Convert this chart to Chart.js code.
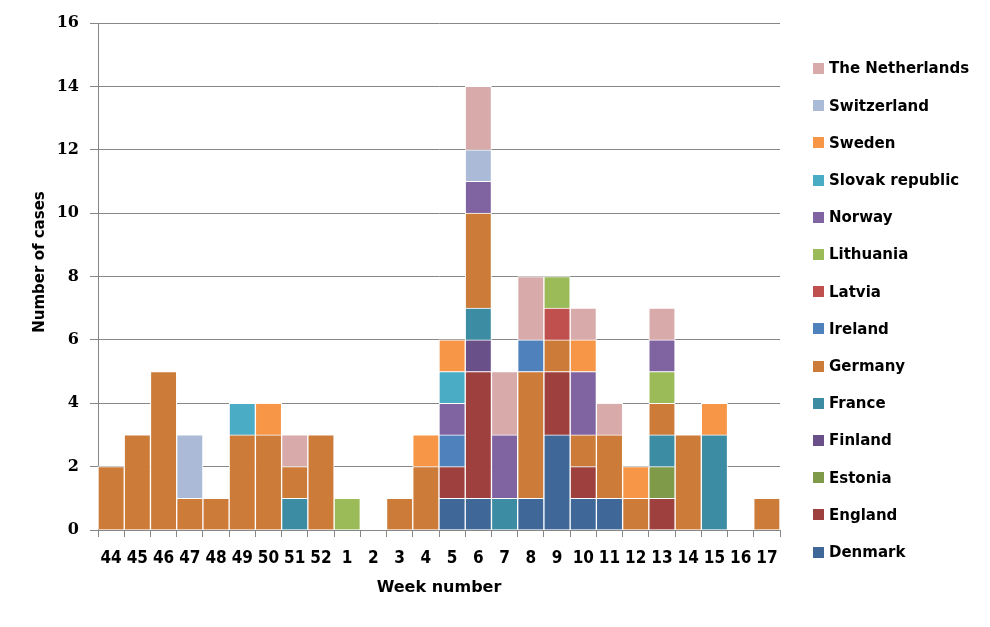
<!DOCTYPE html>
<html>
<head>
<meta charset="utf-8">
<script src="https://cdn.jsdelivr.net/npm/chart.js@4.4.1/dist/chart.umd.min.js"></script>
<style>
  html, body { margin: 0; padding: 0; background: #fff; }
  #wrap { width: 990px; height: 627px; }
</style>
</head>
<body>
<div id="wrap"><canvas id="casesChart" width="990" height="627"></canvas></div>
<script>
// Week numbers on the x axis (season spans the new year)
const weeks = ['44','45','46','47','48','49','50','51','52','1','2','3','4','5','6','7','8','9','10','11','12','13','14','15','16','17'];
const yTicks = [0, 2, 4, 6, 8, 10, 12, 14, 16];

// cases per week, one array per country (stack order bottom -> top)
//                  44 45 46 47 48 49 50 51 52  1  2  3  4  5  6  7  8  9 10 11 12 13 14 15 16 17
const denmark     = [0, 0, 0, 0, 0, 0, 0, 0, 0, 0, 0, 0, 0, 1, 1, 0, 1, 3, 1, 1, 0, 0, 0, 0, 0, 0];
const england     = [0, 0, 0, 0, 0, 0, 0, 0, 0, 0, 0, 0, 0, 1, 4, 0, 0, 2, 1, 0, 0, 1, 0, 0, 0, 0];
const estonia     = [0, 0, 0, 0, 0, 0, 0, 0, 0, 0, 0, 0, 0, 0, 0, 0, 0, 0, 0, 0, 0, 1, 0, 0, 0, 0];
const finland     = [0, 0, 0, 0, 0, 0, 0, 0, 0, 0, 0, 0, 0, 0, 1, 0, 0, 0, 0, 0, 0, 0, 0, 0, 0, 0];
const france      = [0, 0, 0, 0, 0, 0, 0, 1, 0, 0, 0, 0, 0, 0, 1, 1, 0, 0, 0, 0, 0, 1, 0, 3, 0, 0];
const germany     = [2, 3, 5, 1, 1, 3, 3, 1, 3, 0, 0, 1, 2, 0, 3, 0, 4, 1, 1, 2, 1, 1, 3, 0, 0, 1];
const ireland     = [0, 0, 0, 0, 0, 0, 0, 0, 0, 0, 0, 0, 0, 1, 0, 0, 1, 0, 0, 0, 0, 0, 0, 0, 0, 0];
const latvia      = [0, 0, 0, 0, 0, 0, 0, 0, 0, 0, 0, 0, 0, 0, 0, 0, 0, 1, 0, 0, 0, 0, 0, 0, 0, 0];
const lithuania   = [0, 0, 0, 0, 0, 0, 0, 0, 0, 1, 0, 0, 0, 0, 0, 0, 0, 1, 0, 0, 0, 1, 0, 0, 0, 0];
const norway      = [0, 0, 0, 0, 0, 0, 0, 0, 0, 0, 0, 0, 0, 1, 1, 2, 0, 0, 2, 0, 0, 1, 0, 0, 0, 0];
const slovak      = [0, 0, 0, 0, 0, 1, 0, 0, 0, 0, 0, 0, 0, 1, 0, 0, 0, 0, 0, 0, 0, 0, 0, 0, 0, 0];
const sweden      = [0, 0, 0, 0, 0, 0, 1, 0, 0, 0, 0, 0, 1, 1, 0, 0, 0, 0, 1, 0, 1, 0, 0, 1, 0, 0];
const switzerland = [0, 0, 0, 2, 0, 0, 0, 0, 0, 0, 0, 0, 0, 0, 1, 0, 0, 0, 0, 0, 0, 0, 0, 0, 0, 0];
const netherlands = [0, 0, 0, 0, 0, 0, 0, 1, 0, 0, 0, 0, 0, 0, 2, 2, 2, 0, 1, 1, 0, 1, 0, 0, 0, 0];

const countries = ['Denmark', 'England', 'Estonia', 'Finland', 'France', 'Germany', 'Ireland',
  'Latvia', 'Lithuania', 'Norway', 'Slovak republic', 'Sweden', 'Switzerland', 'The Netherlands'];
const series = [denmark, england, estonia, finland, france, germany, ireland,
  latvia, lithuania, norway, slovak, sweden, switzerland, netherlands];
const colors = ['#3F6898', '#9E403D', '#7F9A48', '#6A5088', '#3C8CA3', '#CC7B38', '#4F81BD',
  '#C0504D', '#9BBB59', '#8064A2', '#4BACC6', '#F79646', '#AABAD7', '#D9AAAA'];

const gridColor = '#878787';

// legend on the right (top item = last dataset) + rotated y title
const sideLegend = {
    id: 'sideLegend',
    afterDraw(chart) {
        const ctx = chart.ctx;
        ctx.save();
        ctx.font = 'bold 15px "DejaVu Sans", sans-serif';
        ctx.textBaseline = 'middle';
        ctx.textAlign = 'left';
        const items = chart.data.datasets.slice().reverse();
        items.forEach((ds, i) => {
            const y = 68.5 + i * 37.2;
            ctx.fillStyle = ds.backgroundColor;
            ctx.fillRect(813, Math.round(y - 5.5), 11, 11);
            ctx.fillStyle = '#000';
            ctx.fillText(ds.label, 829, y + 1);
        });

        // y axis title
        ctx.translate(40, 262);
        ctx.rotate(-Math.PI / 2);
        ctx.textAlign = 'center';
        ctx.fillText('Number of cases', 0, 0);
        ctx.restore();
    }
};

const datasets = countries.map((name, i) => ({
    label: name,
    data: series[i],
    backgroundColor: colors[i],
    borderColor: '#ffffff',
    borderWidth: 1,
    borderSkipped: 'start',
    barPercentage: 1.0,
    categoryPercentage: 1.0
}));

new Chart(document.getElementById('casesChart').getContext('2d'), {
    type: 'bar',
    data: { labels: weeks, datasets: datasets },
    options: {
        responsive: false,
        animation: false,
        devicePixelRatio: 1,
        layout: { padding: { top: 23, right: 210, bottom: 0, left: 0 } },
        plugins: {
            legend: { display: false },
            tooltip: { enabled: false }
        },
        scales: {
            x: {
                stacked: true,
                afterFit: s => { s.height = 97; },
                grid: { drawOnChartArea: false, color: gridColor, tickLength: 7, offset: true },
                border: { color: gridColor },
                ticks: {
                    color: '#000',
                    padding: 11,
                    maxRotation: 0,
                    autoSkip: false,
                    font: { family: "'DejaVu Sans Condensed', 'DejaVu Sans', sans-serif", size: 17, weight: 'bold' }
                },
                title: {
                    display: true,
                    text: 'Week number',
                    color: '#000',
                    padding: { top: 0, bottom: 30 },
                    font: { family: "'DejaVu Sans', sans-serif", size: 16, weight: 'bold' }
                }
            },
            y: {
                stacked: true,
                min: 0,
                max: 16,
                afterFit: s => { s.width = 98; },
                afterBuildTicks: s => { s.ticks = yTicks.map(v => ({ value: v })); },
                grid: { color: gridColor, tickLength: 8 },
                border: { color: gridColor },
                ticks: {
                    color: '#000',
                    padding: 11,
                    font: { family: "'DejaVu Serif', serif", size: 16, weight: 'bold' }
                }
            }
        }
    },
    plugins: [sideLegend]
});
</script>
</body>
</html>
